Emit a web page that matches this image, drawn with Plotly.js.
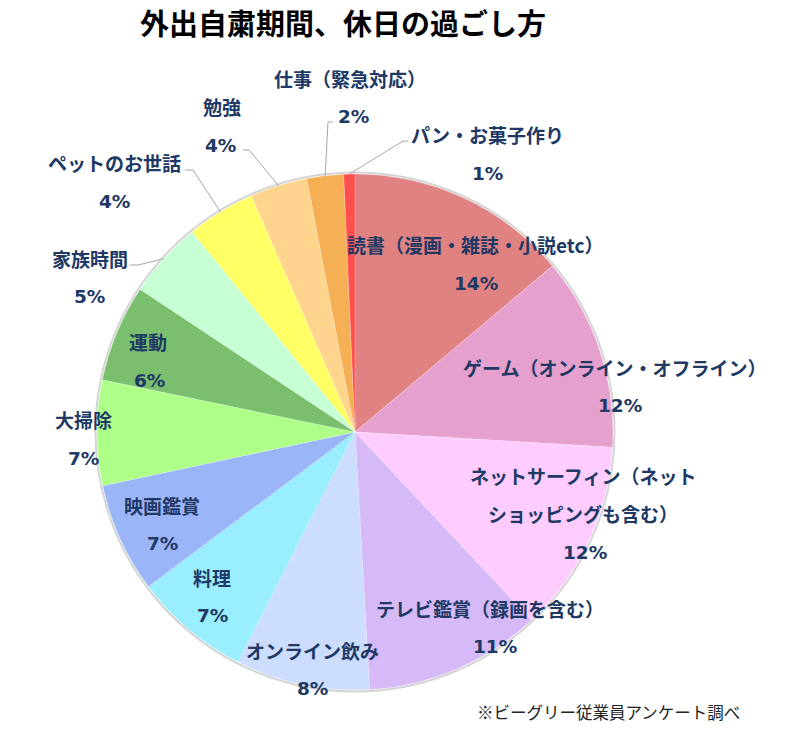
<!DOCTYPE html>
<html><head><meta charset="utf-8">
<script src="https://cdn.plot.ly/plotly-3.0.1.min.js"></script>
<style>html,body{margin:0;padding:0;background:#fff}#chart{width:800px;height:749px}</style>
</head><body><div id="chart"></div>
<script>
// ---- data ----
const categories = [
  '読書（漫画・雑誌・小説etc）',
  'ゲーム（オンライン・オフライン）',
  'ネットサーフィン（ネット\nショッピングも含む）',
  'テレビ鑑賞（録画を含む）',
  'オンライン飲み',
  '料理',
  '映画鑑賞',
  '大掃除',
  '運動',
  '家族時間',
  'ペットのお世話',
  '勉強',
  '仕事（緊急対応）',
  'パン・お菓子作り'
];
const values = [13.9, 12.1, 12.1, 11.1, 8.4, 7.3, 6.9, 6.6, 6.1, 4.8, 4.3, 3.6, 2.3, 0.7];
const colors = ['#E08282','#E6A0CD','#FFCCFF','#D6BAF8','#CCDDFF','#99EEFF','#9BB6F8',
                '#AEFF88','#7ABF6E','#C6FFD4','#FFFF66','#FFD48C','#F5AF55','#FF5050'];
const chartTitle = '外出自粛期間、休日の過ごし方';
const sourceNote = '※ビーグリー従業員アンケート調べ';

// ---- layout helpers (text placement only) ----
const W = 800, H = 749, CX = 355, CY = 432, R = 258;
const px = x => x / W, py = y => 1 - y / H;
// [name x, first line y, percent x] in pixels
const labelPlace = [[475,245,476],[614,367,620],[583,475,585],[490,608,495],[312,650,312],
  [212,577,212],[162,505,162],[83,420,83],[148,342,149],[90,258,89],[115,163,115],
  [222,107,220],[350,78,353],[487,135,487]];
// leader line start + elbow (pixels) for outside labels
const leaderStart = {9:[[130,265],[138,265]],10:[[185,170],[193,170]],11:[[243,150],[249,150]],
  12:[[333,122],[328,122]],13:[[408,141],[403,141]]};
const LINE = 38.5;
const nameFont = {family:'"Noto Sans CJK JP", sans-serif', size:19, color:'#203864'};
const pctFont = {family:'"DejaVu Sans", "Noto Sans CJK JP", sans-serif', size:18.5, color:'#203864'};

const total = values.reduce((a,b)=>a+b,0);
const annotations = [];
const shapes = [];
let cum = 0;
values.forEach((v,i)=>{
  const mid = (cum + v/2) / total * 2 * Math.PI;
  cum += v;
  const lines = categories[i].split('\n');
  const [nx, ny, pxx] = labelPlace[i];
  lines.forEach((t,j)=>{
    annotations.push({xref:'paper',yref:'paper',x:px(nx),y:py(ny + j*LINE),text:'<b>'+t+'</b>',
      showarrow:false,xanchor:'center',yanchor:'middle',font:nameFont});
  });
  const pct = Math.round(v/total*100) + '%';
  annotations.push({xref:'paper',yref:'paper',x:px(pxx),y:py(ny + lines.length*LINE),text:'<b>'+pct+'</b>',
    showarrow:false,xanchor:'center',yanchor:'middle',font:pctFont});
  if (leaderStart[i]) {
    const ex = CX + R*Math.sin(mid), ey = CY - R*Math.cos(mid);
    const [s, e] = leaderStart[i];
    shapes.push({type:'path',xref:'paper',yref:'paper',
      path:`M ${px(s[0])} ${py(s[1])} L ${px(e[0])} ${py(e[1])} L ${px(ex)} ${py(ey)}`,
      line:{color:'#A6A6A6',width:1}});
  }
});
// soft outline around the pie
shapes.push({type:'circle',xref:'paper',yref:'paper',layer:'below',
  x0:px(CX-R-1.5),x1:px(CX+R+1.5),y0:py(CY+R+1.5),y1:py(CY-R-1.5),
  line:{color:'#D4D4D4',width:2}});

annotations.push({xref:'paper',yref:'paper',x:px(608),y:py(712),text:sourceNote,showarrow:false,
  xanchor:'center',yanchor:'middle',font:{family:'"Noto Sans CJK JP", sans-serif',size:16.5,color:'#222222'}});

const trace = {
  type:'pie', labels:categories.map(c=>c.replace('\n','')), values:values,
  sort:false, direction:'clockwise', rotation:0,
  marker:{colors:colors, line:{color:'rgba(255,255,255,0.35)', width:0.6}},
  textinfo:'none', hoverinfo:'none', showlegend:false,
  domain:{x:[px(CX-R), px(CX+R)], y:[py(CY+R), py(CY-R)]}
};
const layout = {
  width:W, height:H, margin:{l:0,r:0,t:0,b:0},
  paper_bgcolor:'#ffffff', plot_bgcolor:'#ffffff',
  title:{text:'<b>'+chartTitle+'</b>', x:px(343), xanchor:'center', y:py(25), yanchor:'middle',
    font:{family:'"Noto Sans CJK JP", sans-serif', size:29, color:'#000000'}},
  annotations:annotations, shapes:shapes, showlegend:false
};
Plotly.newPlot('chart',[trace],layout,{displayModeBar:false,staticPlot:true});
</script></body></html>
